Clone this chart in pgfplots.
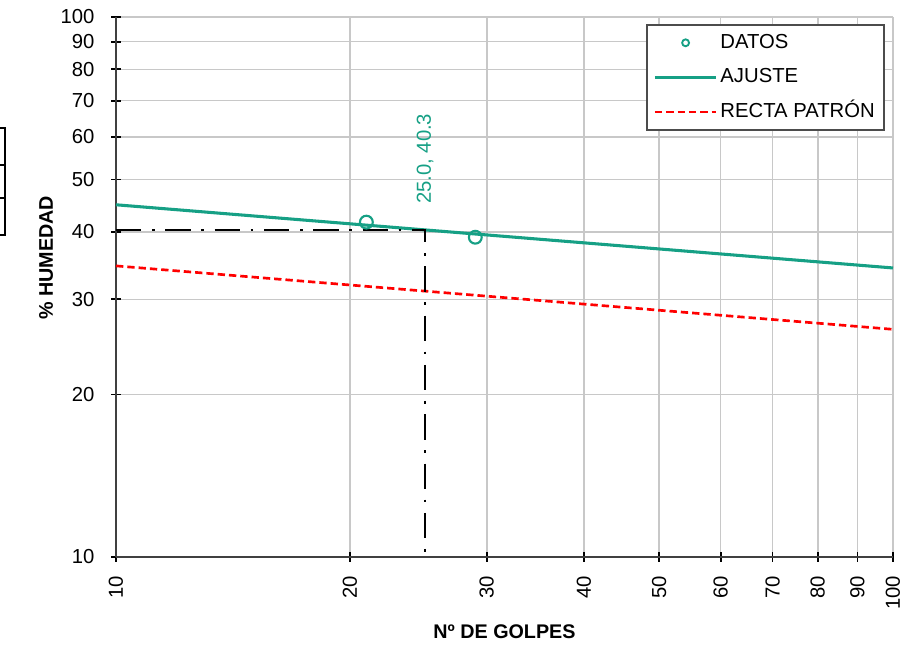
\documentclass[border=0pt]{standalone}
\usepackage{pgfplots}
\pgfplotsset{compat=1.18}
\usepackage{fontspec}
\setmainfont{Liberation Sans}
\definecolor{teal1}{RGB}{22,160,133}
\definecolor{gridgray}{RGB}{200,200,200}
\pgfplotsset{
  linelegend/.style={legend image code/.code={\draw[##1] (0pt,0pt) -- (46pt,0pt);}},
  marklegend/.style={legend image code/.code={\draw[teal1, line width=1.4pt, fill=white] (23pt,0pt) circle (2.6pt);\path[draw=none] (0pt,0pt) -- (46pt,0pt);}},
}
\begin{document}
\begin{tikzpicture}
\useasboundingbox (-87pt,-66.75pt) rectangle (605.25pt,417.75pt);
% partial box cut off at the left edge
\draw[line width=0.9pt] (-95pt,321.75pt) rectangle (-83.25pt,241.5pt);
\draw[line width=0.9pt] (-95pt,294pt) -- (-83.25pt,294pt);
\draw[line width=0.9pt] (-95pt,269.25pt) -- (-83.25pt,269.25pt);
\begin{axis}[
  scale only axis,
  width=582.75pt, height=405pt,
  xmode=log, ymode=log,
  xmin=10, xmax=100, ymin=10, ymax=100,
  xtick={10,20,30,40,50,60,70,80,90,100},
  xticklabels={10,20,30,40,50,60,70,80,90,100},
  ytick={10,20,30,40,50,60,70,80,90,100},
  yticklabels={10,20,30,40,50,60,70,80,90,100},
  minor tick num=0,
  axis x line*=bottom, axis y line*=left,
  axis line style={black!75, line width=1pt},
  tick align=center,
  major tick length=7.5pt,
  tick style={black, line width=1.3pt},
  grid=major,
  major grid style={gridgray, line width=1.2pt},
  font=\fontsize{15.2}{17}\selectfont,
  /pgf/number format/assume math mode=true,
  xticklabel style={rotate=90, anchor=east, xshift=-7pt},
  yticklabel style={anchor=east, xshift=-9pt},
  xlabel={\bfseries Nº DE GOLPES},
  ylabel={\bfseries \% HUMEDAD},
  every axis x label/.style={at={(axis description cs:0.5,-0.139)}, anchor=center, font=\fontsize{14.8}{17}\selectfont},
  every axis y label/.style={at={(axis description cs:-0.090,0.554)}, rotate=90, anchor=center, font=\fontsize{14.8}{17}\selectfont},
  legend style={at={(axis description cs:0.682,0.987)}, anchor=north west,
    draw=black!70, line width=1.2pt, fill=white,
    font=\fontsize{15.2}{17}\selectfont,
    nodes={text height=11pt, text depth=3pt},
    inner xsep=5pt, inner ysep=4.5pt, row sep=8pt,
    /tikz/every even column/.append style={column sep=6pt}},
  legend cell align=left,
  clip=false,
]
\addplot[only marks, mark=o, mark size=4.8pt, mark options={draw=teal1, fill=white, line width=1.6pt}, marklegend]
  coordinates {(21.0,41.7) (29.0,39.1)};
\addlegendentry{DATOS}
\addplot[teal1, line width=2.3pt, linelegend]
  coordinates {(10,44.9) (100,34.3)};
\addlegendentry{AJUSTE}
\addplot[red, line width=2pt, dash pattern=on 5.5pt off 3pt, linelegend]
  coordinates {(10,34.6) (100,26.4)};
\addlegendentry{RECTA PATRÓN}
\addplot[black, line width=1.6pt, dash pattern=on 19pt off 8pt on 2pt off 8pt, forget plot]
  coordinates {(10,40.3) (25,40.3) (25,10)};
\path (axis cs:25,40.3) ++(0pt,19.5pt) node[rotate=90, anchor=west, text=teal1, font=\fontsize{15.2}{17}\selectfont, inner sep=0pt] {25.0, 40.3};
\end{axis}
\end{tikzpicture}
\end{document}
